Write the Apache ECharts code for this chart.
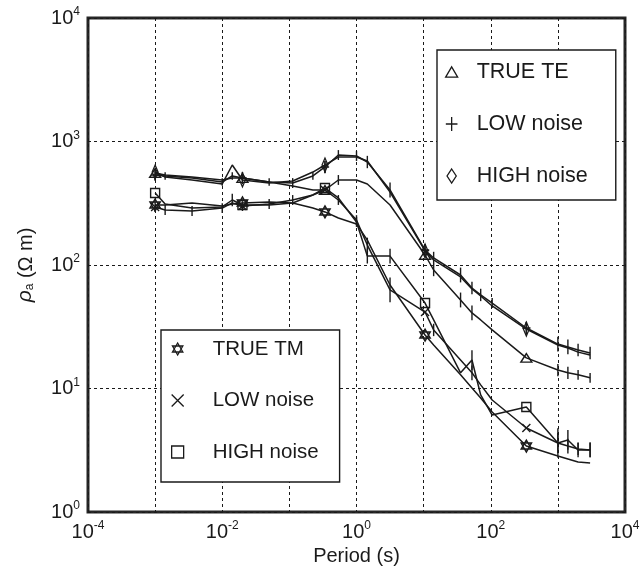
<!DOCTYPE html>
<html>
<head>
<meta charset="utf-8">
<script src="https://cdn.jsdelivr.net/npm/echarts@6/dist/echarts.min.js"></script>
<style>
  html, body { margin: 0; padding: 0; background: #ffffff; }
  #chart { width: 644px; height: 572px; }
</style>
</head>
<body>
<div id="chart"></div>
<script>
// Sounding periods (s)
const periods = [0.001, 0.00141, 0.00355, 0.01, 0.0141, 0.02, 0.05, 0.112, 0.224, 0.339,
                 0.537, 1.0, 1.45, 3.16, 10.5, 14.1, 35.5, 52.5, 70.8, 105,
                 339, 1000, 1410, 2000, 3020];

// Apparent resistivity (ohm m), TE mode
const trueTE = [556, 535, 516, 488, 506, 506, 470, 436, 405, 405,
                488, 488, 453, 306, 120.5, 91.1, 52.1, 40.9, 35.9, 29.8,
                17.7, 14.1, 13.4, 12.9, 12.2];
const lowTE  = [535, 526, 506, 470, 526, 506, 470, 461, 526, 622,
                777, 763, 682, 405, 132, 114, 83.0, 65.1, 57.2, 49.2,
                30.9, 22.9, 21.7, 20.5, 19.4];
const highTE = [566, 516, 488, 453, 645, 488, 461, 479, 566, 645,
                749, 749, 695, 390, 130, 110, 80.0, 63.9, 56.1, 46.6,
                30.3, 22.5, 21.3, 19.7, 18.7];

// Apparent resistivity (ohm m), TM mode
const trueTM = [306, 306, 318, 300, 312, 318, 324, 318, 289, 269,
                240, 215, 159, 68.9, 27.1, 22.5, 12.9, 10.1, 8.38, 6.45,
                3.42, 2.84, 2.69, 2.54, 2.49];
const lowTM  = [295, 279, 274, 289, 318, 300, 312, 336, 369, 405,
                336, 231, 145, 62.8, 41.6, 29.8, 17.0, 13.4, 10.7, 8.07,
                4.79, 3.62, 3.42, 3.24, 3.18];
const highTM = [383, 312, 289, 295, 336, 306, 306, 318, 369, 420,
                349, 223, 118, 118, 49.2, 35.9, 13.4, 17.0, 8.86, 6.10,
                7.08, 3.62, 3.83, 3.18, 3.18];

// Error bar half-widths (decades of resistivity); 0 = no bar
const errTrueTE = [0, 0, 0, 0, 0, 0, 0, 0, 0, 0,
                   0.04, 0, 0, 0, 0, 0.05, 0.06, 0.06, 0, 0,
                   0, 0.05, 0.05, 0.04, 0.04];
const errLowTE  = [0.04, 0.03, 0, 0.03, 0.03, 0.05, 0.03, 0.04, 0.03, 0.05,
                   0.04, 0.04, 0.05, 0.06, 0.05, 0.05, 0.06, 0.05, 0.05, 0.04,
                   0.05, 0.06, 0.06, 0.05, 0.05];
const errLowTM  = [0.04, 0.04, 0.04, 0.04, 0, 0.04, 0.04, 0.04, 0, 0,
                   0.04, 0.04, 0.06, 0.1, 0, 0.05, 0, 0.06, 0, 0,
                   0, 0.12, 0.06, 0.05, 0.06];
const errHighTM = [0, 0, 0, 0, 0.05, 0, 0, 0, 0, 0,
                   0, 0.04, 0.06, 0.06, 0, 0, 0, 0.08, 0, 0,
                   0, 0.08, 0.08, 0.06, 0.06];

// Periods that carry a marker symbol
const markedIdx = [0, 5, 9, 14, 20];

// Tick label exponents
const xLabelExps = [-4, -2, 0, 2, 4];
const yLabelExps = [0, 1, 2, 3, 4];

const FONT = '"Liberation Sans", Arial, Helvetica, sans-serif';
const INK = '#1a1a1a';
const CLEAR = 'rgba(0,0,0,0)';

const SYM = {
  tri:     'path://M0,-5L5.6,4.6L-5.6,4.6Z',
  plus:    'path://M-5,0L5,0M0,-6L0,6',
  diamond: 'path://M0,-7L4.6,0L0,7L-4.6,0Z',
  star:    'path://M0,-6L5.2,3L-5.2,3ZM0,6L5.2,-3L-5.2,-3Z',
  cross:   'path://M-4,-4L4,4M-4,4L4,-4',
  square:  'path://M-4.5,-4.5L4.5,-4.5L4.5,4.5L-4.5,4.5Z'
};

function curve(name, values, sym, size, fill) {
  return {
    type: 'line',
    name: name,
    data: periods.map((p, i) => [p, values[i]]),
    symbol: (v, params) => (markedIdx.indexOf(params.dataIndex) >= 0 ? sym : 'none'),
    symbolSize: size,
    symbolKeepAspect: true,
    showAllSymbol: true,
    lineStyle: { color: INK, width: 1.5 },
    itemStyle: { color: fill || CLEAR, borderColor: INK, borderWidth: 1.4 },
    emphasis: { disabled: true },
    z: 2
  };
}

function errorBars(values, errs) {
  const data = [];
  periods.forEach((p, i) => {
    if (errs[i] > 0) {
      const f = Math.pow(10, errs[i]);
      data.push([p, values[i] / f, values[i] * f]);
    }
  });
  return {
    type: 'custom',
    data: data,
    encode: { x: 0, y: [1, 2] },
    silent: true,
    z: 3,
    renderItem: (params, api) => {
      const a = api.coord([api.value(0), api.value(1)]);
      const b = api.coord([api.value(0), api.value(2)]);
      return {
        type: 'line',
        shape: { x1: a[0], y1: a[1], x2: b[0], y2: b[1] },
        style: { stroke: INK, lineWidth: 1.4 }
      };
    }
  };
}

const powRich = {
  b: { fontSize: 20, fontFamily: FONT, color: INK, lineHeight: 20, verticalAlign: 'bottom' },
  s: { fontSize: 12, fontFamily: FONT, color: INK, lineHeight: 12, padding: [0, 0, 10, 0], verticalAlign: 'bottom' }
};
const powLabel = (exps) => (v) => {
  const e = Math.round(Math.log10(v));
  return exps.indexOf(e) >= 0 ? '{b|10}{s|' + e + '}' : '';
};

const legendBase = {
  orient: 'vertical',
  selectedMode: false,
  backgroundColor: '#ffffff',
  borderColor: INK,
  borderWidth: 1.4,
  itemStyle: { color: CLEAR, borderColor: INK, borderWidth: 1.3 },
  symbolKeepAspect: true
};

const chart = echarts.init(document.getElementById('chart'));
chart.setOption({
  animation: false,
  backgroundColor: '#ffffff',
  textStyle: { fontFamily: FONT, color: INK },
  grid: {
    left: 88, right: 19, top: 18, bottom: 60,
    show: true, borderColor: '#262626', borderWidth: 3,
    backgroundColor: CLEAR
  },
  xAxis: {
    type: 'log', logBase: 10, min: 1e-4, max: 1e4, splitNumber: 8,
    axisLine: { show: false }, axisTick: { show: false },
    splitLine: { show: true, lineStyle: { color: INK, width: 1, type: [3, 3] } },
    axisLabel: { margin: 10, formatter: powLabel(xLabelExps), rich: powRich, showMinLabel: true, showMaxLabel: true },
    name: 'Period (s)', nameLocation: 'middle', nameGap: 34,
    nameTextStyle: { fontSize: 20, fontFamily: FONT, color: INK }
  },
  yAxis: {
    type: 'log', logBase: 10, min: 1, max: 1e4, splitNumber: 4,
    axisLine: { show: false }, axisTick: { show: false },
    splitLine: { show: true, lineStyle: { color: INK, width: 1, type: [3, 3] } },
    axisLabel: { margin: 8, formatter: powLabel(yLabelExps), rich: powRich, showMinLabel: true, showMaxLabel: true },
    name: '{i|ρ}{a|a}{n| (Ω m)}', nameLocation: 'middle', nameGap: 52, nameRotate: 90,
    nameTextStyle: {
      rich: {
        i: { fontSize: 21, fontStyle: 'italic', fontFamily: FONT, color: INK, lineHeight: 24, verticalAlign: 'bottom' },
        a: { fontSize: 12, fontFamily: FONT, color: INK, lineHeight: 12, verticalAlign: 'bottom' },
        n: { fontSize: 20, fontFamily: FONT, color: INK, lineHeight: 24, verticalAlign: 'bottom' }
      }
    }
  },
  legend: [
    Object.assign({}, legendBase, {
      left: 437, top: 50,
      padding: [10, 28, 12, 8],
      itemGap: 28, itemWidth: 12, itemHeight: 14,
      textStyle: { fontSize: 21.5, fontFamily: FONT, color: INK, lineHeight: 24, padding: [0, 0, 0, 14] },
      data: [
        { name: 'TRUE TE', icon: SYM.tri },
        { name: 'LOW noise', icon: SYM.plus },
        { name: 'HIGH noise', icon: SYM.diamond }
      ]
    }),
    Object.assign({}, legendBase, {
      left: 161, top: 330,
      padding: [7, 21, 18, 10],
      itemGap: 27.5, itemWidth: 12, itemHeight: 12,
      textStyle: { fontSize: 20.5, fontFamily: FONT, color: INK, lineHeight: 24, padding: [0, 0, 0, 24] },
      data: [
        { name: 'TRUE TM', icon: SYM.star },
        { name: 'LOW noise', icon: SYM.cross },
        { name: 'HIGH noise', icon: SYM.square }
      ]
    })
  ],
  series: [
    curve('TRUE TE', trueTE, SYM.tri, [11, 10]),
    curve('LOW noise', lowTE, SYM.plus, [10, 12]),
    curve('HIGH noise', highTE, SYM.diamond, [9, 14]),
    curve('TRUE TM', trueTM, SYM.star, [12, 12], 'rgba(60,60,60,0.55)'),
    curve('LOW noise', lowTM, SYM.cross, [8, 8]),
    curve('HIGH noise', highTM, SYM.square, [9, 9]),
    errorBars(trueTE, errTrueTE),
    errorBars(lowTE, errLowTE),
    errorBars(lowTM, errLowTM),
    errorBars(highTM, errHighTM)
  ]
});
</script>
</body>
</html>
